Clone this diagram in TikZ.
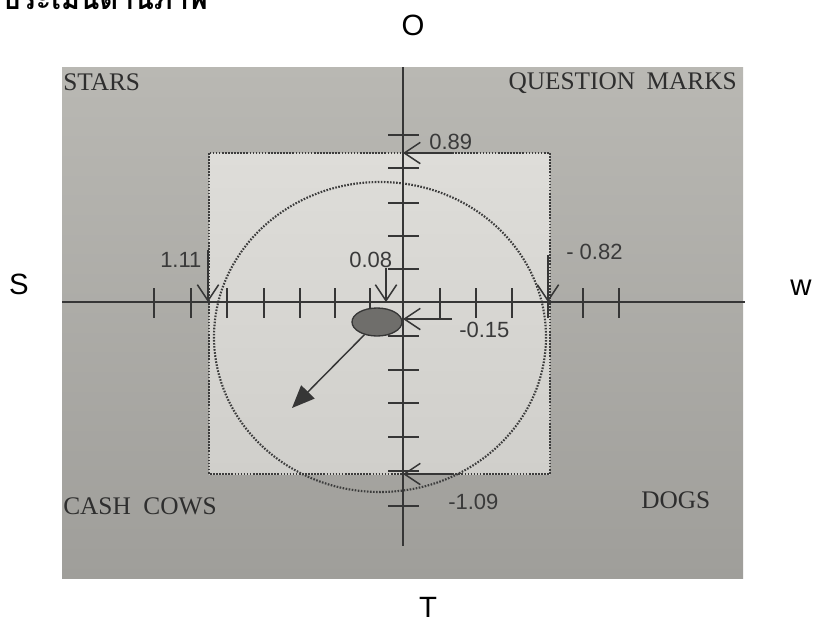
\documentclass[tikz,border=0pt]{standalone}
\usepackage{fontspec}
\setmainfont{Liberation Serif}
\newfontfamily\lsans{Liberation Sans}
\newfontfamily\thaifont[Script=Thai]{Loma}
\usetikzlibrary{arrows.meta,shapes.geometric}
\definecolor{linecol}{HTML}{363636}
\definecolor{dotcol}{HTML}{3C3C3C}
\definecolor{bgtop}{HTML}{B9B8B3}
\definecolor{bgbot}{HTML}{9F9E9A}
\definecolor{sqtop}{HTML}{DEDDD9}
\definecolor{sqbot}{HTML}{D0CFCB}
\definecolor{numcol}{HTML}{3A3A3A}
\definecolor{quadcol}{HTML}{2E2E2E}
\definecolor{blobcol}{HTML}{6F6E6B}
\begin{document}
\begin{tikzpicture}[x=0.75pt,y=-0.75pt,
  axisline/.style={draw=linecol,line width=1.5pt},
  tickline/.style={draw=linecol,line width=1.4pt},
  marker/.style={draw=linecol,line width=1.1pt,-{Straight Barb[length=12pt,width=16pt,line width=1.1pt]}},
  dotline/.style={draw=dotcol,line width=1.6pt,dash pattern=on 1.2pt off 1.1pt},
  numlbl/.style={font=\lsans\fontsize{16.5pt}{19pt}\selectfont,text=numcol,inner sep=0pt,anchor=base west},
  quad/.style={font=\fontsize{19pt}{22pt}\selectfont,text=quadcol,inner sep=0pt},
  outer/.style={font=\lsans\fontsize{22pt}{26pt}\selectfont,text=black,inner sep=0pt}]
\useasboundingbox (0,0) rectangle (815,622);
\fill[white] (0,0) rectangle (815,622);
% title (cut off at the top, as in the reference)
\node[font=\thaifont\bfseries\fontsize{21.5pt}{25pt}\selectfont,inner sep=0pt,anchor=base west] (title) at (2,9) {ประเมินด้านภาพ};
% photo background
\shade[top color=bgtop,bottom color=bgbot] (62,67) rectangle (743,578);
% light square
\shade[top color=sqtop,bottom color=sqbot] (209,153) rectangle (550,474);
\draw[dotline] (209,153) rectangle (550,474);
% dotted circle
\draw[dotline] (380,337) ellipse [x radius=166, y radius=155];
% axes
\coordinate (xl) at (62,302);
\coordinate (xr) at (745,302);
\coordinate (yt) at (403,67);
\coordinate (yb) at (403,546);
\draw[axisline] (xl) -- (xr);
\draw[axisline] (yt) -- (yb);
\foreach \x in {154,191,227,264,300,335,370,440,476,512,548,583,619}
  \draw[tickline] (\x,288) -- (\x,318);
\foreach \y in {135,168,203,236,269,336,370,403,437,471,506}
  \draw[tickline] (388,\y) -- (419,\y);
% markers
\coordinate (m1s) at (452,153);  \coordinate (m1) at (403,153);
\coordinate (m2s) at (208,250);  \coordinate (m2) at (208,302);
\coordinate (m3s) at (386,268);  \coordinate (m3) at (386,302);
\coordinate (m4s) at (548,255);  \coordinate (m4) at (548,302);
\coordinate (m5s) at (452,319);  \coordinate (m5) at (403,319);
\coordinate (m6s) at (452,474);  \coordinate (m6) at (403,474);
\draw[marker] (m1s) -- (m1);
\draw[marker] (m2s) -- (m2);
\draw[marker] (m3s) -- (m3);
\draw[marker] (m4s) -- (m4);
\draw[marker] (m5s) -- (m5);
\draw[marker] (m6s) -- (m6);
\node[numlbl] (l1) at (429,149) {0.89};
\node[numlbl] (l2) at (160,267) {1.11};
\node[numlbl] (l3) at (349,267) {0.08};
\node[numlbl] (l4) at (566,259) {- 0.82};
\node[numlbl] (l5) at (459,337) {-0.15};
\node[numlbl] (l6) at (448,509) {-1.09};
% position blob and direction arrow
\node[ellipse,draw=linecol,line width=1pt,fill=blobcol,minimum width=37.5pt,minimum height=21pt,inner sep=0pt] (blob) at (377,322) {};
\coordinate (tip) at (292,408);
\draw[draw=linecol,line width=1.1pt,-{Triangle[length=17pt,width=14pt]}] (blob) -- (tip);
% quadrant labels
\node[quad,anchor=base west] (stars) at (63,90) {STARS};
\node[quad,anchor=base east] (qm) at (737,89) {QUESTION\hspace{0.45em}MARKS};
\node[quad,anchor=base west] (cc) at (63,514) {CASH\hspace{0.5em}COWS};
\node[quad,anchor=base west] (dogs) at (641,508) {DOGS};
% outer labels
\node[outer] (o) at (413,25) {O};
\node[outer] (s) at (19,284) {S};
\node[outer] (w) at (801,288) {w};
\node[outer] (t) at (428,607) {T};
\end{tikzpicture}
\end{document}
